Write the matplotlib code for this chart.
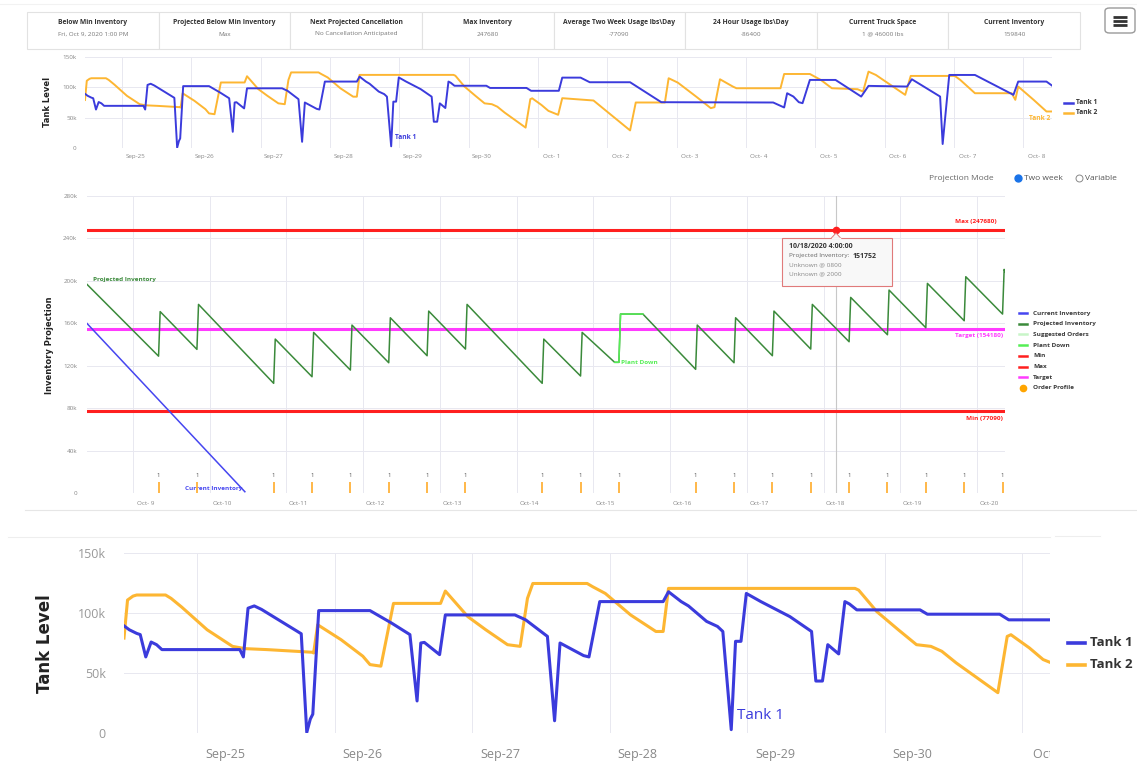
import numpy as np
import pandas as pd
import matplotlib
matplotlib.use("Agg")
import matplotlib.pyplot as plt
from matplotlib.lines import Line2D
from matplotlib.patches import Rectangle, FancyBboxPatch, Polygon

# ---------------- data ----------------
card_titles = ["Below Min Inventory", "Projected Below Min Inventory", "Next Projected Cancellation",
               "Max Inventory", "Average Two Week Usage lbs\\Day", "24 Hour Usage lbs\\Day",
               "Current Truck Space", "Current Inventory"]
card_values = ["Fri, Oct 9, 2020 1:00 PM", "Max", "No Cancellation Anticipated", "247680",
               "-77090", "-86400", "1 @ 46000 lbs", "159840"]

# tank levels: time in days after 2020-09-25 00:00, level in thousands of lbs
tank1_day = [-0.534, -0.495, -0.442, -0.416, -0.376, -0.337, -0.297, -0.258, 0.308, 0.334,
             0.368, 0.413, 0.466, 0.755, 0.795, 0.821, 0.839, 0.882, 1.255, 1.413,
             1.545, 1.597, 1.624, 1.650, 1.761, 1.803, 2.308, 2.387, 2.545, 2.597,
             2.637, 2.808, 2.847, 2.926, 3.387, 3.426, 3.518, 3.571, 3.703, 3.782,
             3.821, 3.882, 3.913, 3.953, 3.992, 4.097, 4.308, 4.466, 4.497, 4.545,
             4.584, 4.663, 4.708, 4.742, 4.795, 5.255, 5.308, 5.834, 5.900, 6.300,
             6.349, 6.614, 6.746, 7.328, 7.778, 9.392, 9.550, 9.593, 9.683, 9.762,
             9.815, 9.921, 10.291, 10.661, 10.767, 11.323, 11.392, 11.799, 11.836, 11.931,
             12.302, 12.857, 12.926, 13.333, 13.413]
tank1_k = [89.3, 86.0, 83.0, 82.0, 63.4, 75.8, 73.6, 69.5, 69.5, 63.4,
           104.0, 105.9, 103.0, 82.7, 0.5, 11.6, 15.7, 102.0, 102.0, 91.5,
           82.0, 26.7, 75.0, 75.5, 65.3, 98.4, 98.4, 94.3, 80.5, 10.2,
           75.0, 64.5, 63.4, 109.5, 109.5, 117.7, 109.5, 105.9, 93.0, 88.8,
           84.6, 2.8, 76.4, 76.4, 116.3, 109.5, 97.0, 84.6, 43.3, 43.3,
           73.6, 65.9, 109.5, 107.5, 102.6, 102.6, 99.0, 99.0, 94.3, 94.3,
           116.0, 116.0, 108.4, 108.4, 75.5, 75.0, 66.8, 90.3, 84.8, 75.5,
           73.9, 112.2, 112.2, 84.8, 102.4, 101.3, 113.3, 84.8, 6.6, 120.4,
           120.4, 87.6, 109.5, 109.5, 102.9]

tank2_day = [-0.534, -0.508, -0.468, -0.442, -0.232, -0.192, -0.113, 0.071, 0.255, 0.347,
             0.505, 0.834, 0.845, 0.874, 1.045, 1.203, 1.255, 1.334, 1.426, 1.768,
             1.803, 1.966, 2.097, 2.255, 2.347, 2.400, 2.439, 2.834, 2.874, 2.966,
             3.150, 3.334, 3.387, 3.426, 4.782, 4.808, 4.940, 5.097, 5.229, 5.334,
             5.413, 5.518, 5.821, 5.889, 5.916, 6.050, 6.150, 6.290, 6.349, 6.540,
             6.800, 7.328, 7.410, 7.830, 7.884, 8.016, 8.280, 8.492, 8.545, 8.624,
             8.810, 8.862, 9.497, 9.550, 9.921, 10.079, 10.238, 10.608, 10.688, 10.767,
             10.873, 11.296, 11.376, 12.011, 12.090, 12.302, 12.831, 12.884, 12.926, 13.148,
             13.333, 13.413]
tank2_k = [79.1, 110.8, 114.1, 115.0, 115.0, 112.2, 104.8, 86.0, 72.2, 70.3,
           69.5, 67.3, 66.7, 90.2, 77.7, 64.0, 57.0, 55.7, 108.0, 108.0,
           118.3, 97.0, 86.0, 73.6, 72.2, 112.2, 124.6, 124.6, 121.9, 116.3,
           98.4, 84.6, 84.6, 120.5, 120.5, 119.1, 101.2, 86.0, 73.6, 72.2,
           68.1, 58.4, 33.6, 80.5, 81.9, 70.9, 61.2, 54.7, 82.1, 80.5,
           78.3, 29.0, 75.0, 75.0, 115.0, 107.8, 84.8, 65.7, 67.3, 113.3,
           101.3, 98.5, 98.5, 122.0, 122.0, 112.2, 98.5, 96.9, 93.0, 125.9,
           120.4, 87.6, 118.8, 118.8, 112.2, 90.3, 90.3, 79.4, 101.3, 79.4,
           60.2, 60.2]

tank_ticks = ["0", "50k", "100k", "150k"]
tank_tick_vals = [0, 50000, 100000, 150000]

# projection chart
proj_time = ["2020-10-08 09:37",
             "2020-10-09 08:00", "2020-10-09 08:30", "2020-10-09 20:00", "2020-10-09 20:30",
             "2020-10-10 20:00", "2020-10-10 20:30", "2020-10-11 08:00", "2020-10-11 08:30",
             "2020-10-11 20:00", "2020-10-11 20:30", "2020-10-12 08:00", "2020-10-12 08:30",
             "2020-10-12 20:00", "2020-10-12 20:30", "2020-10-13 08:00", "2020-10-13 08:30",
             "2020-10-14 08:00", "2020-10-14 08:30", "2020-10-14 20:00", "2020-10-14 20:30",
             "2020-10-15 06:40", "2020-10-15 08:00", "2020-10-15 08:30", "2020-10-15 15:30",
             "2020-10-16 08:00", "2020-10-16 08:30", "2020-10-16 20:00", "2020-10-16 20:30",
             "2020-10-17 08:00", "2020-10-17 08:30", "2020-10-17 20:00", "2020-10-17 20:30",
             "2020-10-18 08:00", "2020-10-18 08:30", "2020-10-18 20:00", "2020-10-18 20:30",
             "2020-10-19 08:00", "2020-10-19 08:30", "2020-10-19 20:00", "2020-10-19 20:30",
             "2020-10-20 08:00", "2020-10-20 08:30", "2020-10-20 08:46"]
proj_k = [196.7,
          129.0, 171.0, 135.4, 177.8,
          103.4, 145.1, 109.6, 151.4,
          115.9, 158.3, 122.8, 165.2,
          129.4, 171.5, 135.7, 177.8,
          103.4, 145.1, 110.3, 151.4,
          123.2, 123.2, 168.7, 168.7,
          116.6, 158.3, 122.8, 165.2,
          129.4, 171.5, 135.7, 177.8,
          142.6, 184.4, 149.2, 191.3,
          155.8, 197.6, 162.4, 203.9,
          168.7, 210.8, 208.6]

plant_time = ["2020-10-15 06:40", "2020-10-15 08:00", "2020-10-15 08:30", "2020-10-15 15:30"]
plant_k = [123.2, 123.2, 168.7, 168.7]

cur_time = ["2020-10-08 09:37", "2020-10-10 11:00"]
cur_value = [159840, 1200]

order_time = ["2020-10-09 08:00", "2020-10-09 20:00", "2020-10-10 20:00", "2020-10-11 08:00",
              "2020-10-11 20:00", "2020-10-12 08:00", "2020-10-12 20:00", "2020-10-13 08:00",
              "2020-10-14 08:00", "2020-10-14 20:00", "2020-10-15 08:00", "2020-10-16 08:00",
              "2020-10-16 20:00", "2020-10-17 08:00", "2020-10-17 20:00", "2020-10-18 08:00",
              "2020-10-18 20:00", "2020-10-19 08:00", "2020-10-19 20:00", "2020-10-20 08:00"]
order_count = [1, 1, 1, 1, 1, 1, 1, 1, 1, 1, 1, 1, 1, 1, 1, 1, 1, 1, 1, 1]

max_val = 247680
min_val = 77090
target_val = 154180
proj_tick_vals = [0, 40000, 80000, 120000, 160000, 200000, 240000, 280000]
proj_ticks = ["0", "40k", "80k", "120k", "160k", "200k", "240k", "280k"]

tooltip_time = "2020-10-18 04:00"
tooltip_lines = ["10/18/2020 4:00:00", "Projected Inventory: ", "151752", "Unknown @ 0800", "Unknown @ 2000"]

legend_names = ["Current Inventory", "Projected Inventory", "Suggested Orders", "Plant Down",
                "Min", "Max", "Target", "Order Profile"]

# ---------------- styling ----------------
W, H = 1137, 766
plt.rcParams['font.family'] = ['Open Sans', 'DejaVu Sans']
fig = plt.figure(figsize=(W / 100, H / 100), dpi=100)
fig.patch.set_facecolor("white")

BLUE = "#3b3bdc"
ORANGE = "#fdb632"
GREEN = "#3b8a3b"
PLANT = "#55ee55"
SUGG = "#c8f5c8"
RED = "#ff1f1f"
MAGENTA = "#ff3bff"
GRID = "#e8e8f0"
TICKC = "#888888"


def fx(x):
    return x / W


def fy(y):
    return 1 - y / H


def rect(x0, y0, x1, y1):
    return [x0 / W, 1 - y1 / H, (x1 - x0) / W, (y1 - y0) / H]


def fline(x0, y0, x1, y1, **kw):
    fig.add_artist(Line2D([fx(x0), fx(x1)], [fy(y0), fy(y1)], transform=fig.transFigure, **kw))


def ftext(x, y, s, **kw):
    return fig.text(fx(x), fy(y), s, **kw)


BASE = np.datetime64("2020-09-25T00:00")


def day_to_time(days):
    return BASE + np.round(np.array(days) * 1440).astype("timedelta64[m]")


def fmt_day(d):
    return f"{d:%b}-{d.day:2d}"


def style_axis(ax, label_offset_days, first_day, last_day, fs, pad_x, pad_y):
    days = pd.date_range(first_day, last_day, freq="D")
    ax.set_xticks(days.to_numpy(), labels=[""] * len(days))
    lab_pos = (days + pd.Timedelta(days=label_offset_days)).to_numpy()
    ax.set_xticks(lab_pos, labels=[fmt_day(d) for d in days], minor=True)
    ax.grid(True, which="major", color=GRID, lw=0.7, zorder=0)
    ax.set_axisbelow(True)
    for s in ax.spines.values():
        s.set_visible(False)
    ax.tick_params(which="both", length=0, labelsize=fs, labelcolor=TICKC)
    ax.tick_params(axis="x", which="minor", pad=pad_x)
    ax.tick_params(axis="y", pad=pad_y)


# ---------------- header ----------------
fline(0, 4, 1137, 4, color="#f2f2f2", lw=0.8)
edges = np.linspace(27, 1080, len(card_titles) + 1)
for i, (t, v) in enumerate(zip(card_titles, card_values)):
    x0, x1 = edges[i], edges[i + 1]
    fig.add_artist(Rectangle((fx(x0), fy(49)), (x1 - x0) / W, 37 / H, transform=fig.transFigure,
                             facecolor="white", edgecolor="#e2e2e2", lw=0.8))
    ftext((x0 + x1) / 2, 22, t, ha="center", va="center", fontsize=4.9, fontweight="bold", color="#333333")
    ftext((x0 + x1) / 2, 34, v, ha="center", va="center", fontsize=4.6, color="#777777")

fig.add_artist(FancyBboxPatch((fx(1105), fy(33)), 30 / W, 25 / H, transform=fig.transFigure,
                              boxstyle="round,pad=0,rounding_size=0.004", facecolor="white",
                              edgecolor="#9a9a9a", lw=1.0))
for yy in (17, 21, 25):
    fline(1113, yy, 1127, yy, color="#333333", lw=2.0, solid_capstyle="butt")

# ---------------- top tank chart ----------------
t1 = day_to_time(tank1_day)
t2 = day_to_time(tank2_day)
ax1 = fig.add_axes(rect(85, 57, 1052, 148))
ax1.plot(t1, np.array(tank1_k) * 1000, color=BLUE, lw=1.4, zorder=3)
ax1.plot(t2, np.array(tank2_k) * 1000, color=ORANGE, lw=1.4, zorder=2)
ax1.set_xlim(t1[0], t1[-1])
ax1.set_ylim(0, 150000)
ax1.set_yticks(tank_tick_vals, labels=tank_ticks)
style_axis(ax1, 0.19, "2020-09-25", "2020-10-08", 4.5, 4.5, 6)
ftext(48, 102, "Tank Level", rotation=90, ha="center", va="center", fontsize=6,
      fontweight="bold", color="#222222", family="DejaVu Sans")
ax1.annotate("Tank 1", xy=(t1[41], tank1_k[41] * 1000), xytext=(2.5, 6), textcoords="offset points",
             fontsize=4.8, fontweight="bold", color=BLUE, va="center", ha="left")
ax1.annotate("Tank 2", xy=(t2[-1], tank2_k[-1] * 1000), xytext=(-1.5, -5), textcoords="offset points",
             fontsize=4.8, fontweight="bold", color=ORANGE, va="center", ha="right")
for yy, c, name in ((103, BLUE, "Tank 1"), (113, ORANGE, "Tank 2")):
    fline(1064, yy, 1073, yy, color=c, lw=1.8)
    ftext(1076, yy, name, fontsize=4.8, fontweight="bold", color="#333333", va="center")

# ---------------- projection mode ----------------
ftext(929, 179, "Projection Mode", fontsize=6, color="#666666", va="center")
fig.add_artist(Line2D([fx(1018)], [fy(178)], transform=fig.transFigure, marker="o", markersize=5,
                      markerfacecolor="#1a73e8", markeredgecolor="#1a73e8"))
ftext(1024, 179, "Two week", fontsize=6, color="#555555", va="center")
fig.add_artist(Line2D([fx(1079)], [fy(178)], transform=fig.transFigure, marker="o", markersize=5,
                      markerfacecolor="white", markeredgecolor="#888888", markeredgewidth=0.7))
ftext(1085, 179, "Variable", fontsize=6, color="#555555", va="center")

# ---------------- projection chart ----------------
pt = pd.to_datetime(proj_time).to_numpy()
ax2 = fig.add_axes(rect(87, 196, 1005, 493))
ax2.set_xlim(pt[0], pt[-1])
ax2.set_ylim(0, 280000)
ax2.set_yticks(proj_tick_vals, labels=proj_ticks)
style_axis(ax2, 0.16, "2020-10-09", "2020-10-20", 4.5, 5.5, 7)

tt = pd.Timestamp(tooltip_time).to_datetime64()
ax2.axvline(tt, color="#c8c8c8", lw=0.8, zorder=1)
ax2.axhline(max_val, color=RED, lw=2.2, zorder=3)
ax2.axhline(min_val, color=RED, lw=2.2, zorder=3)
ax2.axhline(target_val, color=MAGENTA, lw=2.2, zorder=3)
ax2.plot(pt, np.array(proj_k) * 1000, color=GREEN, lw=1.1, zorder=4)
ax2.plot(pd.to_datetime(plant_time).to_numpy(), np.array(plant_k) * 1000, color=PLANT, lw=1.1, zorder=5)
ct = pd.to_datetime(cur_time).to_numpy()
ax2.plot(ct, cur_value, color="#4646f0", lw=1.1, zorder=4)
ot = pd.to_datetime(order_time).to_numpy()
ax2.vlines(ot, 0, np.array(order_count) * 10000, color="#ffb23a", lw=1.3, zorder=4)
for o, c in zip(ot, order_count):
    ax2.text(o, c * 16500, str(c), fontsize=4.3, color="#555555", ha="center", va="center")
ax2.plot([tt], [max_val], marker="o", markersize=4.5, color=RED, zorder=6)

ax2.annotate("Projected Inventory", xy=(pt[0], proj_k[0] * 1000), xytext=(4.5, 3.6),
             textcoords="offset points", fontsize=4.6, fontweight="bold", color=GREEN, va="center")
ax2.annotate("Plant Down", xy=(pd.Timestamp(plant_time[1]).to_datetime64(), plant_k[1] * 1000),
             xytext=(1.5, 0), textcoords="offset points", fontsize=4.6, fontweight="bold",
             color=PLANT, va="center")
ax2.annotate("Current Inventory", xy=(ct[-1], cur_value[-1]), xytext=(-1.5, 2.6),
             textcoords="offset points", fontsize=4.6, fontweight="bold", color="#4646f0",
             va="center", ha="right")
xr = pt[-1]
ax2.annotate(f"Max ({max_val})", xy=(xr, max_val), xytext=(-6, 6), textcoords="offset points",
             fontsize=4.6, fontweight="bold", color=RED, va="center", ha="right")
ax2.annotate(f"Target ({target_val})", xy=(xr, target_val), xytext=(-1.5, -4.5), textcoords="offset points",
             fontsize=4.6, fontweight="bold", color=MAGENTA, va="center", ha="right")
ax2.annotate(f"Min ({min_val})", xy=(xr, min_val), xytext=(-1.5, -5), textcoords="offset points",
             fontsize=4.6, fontweight="bold", color=RED, va="center", ha="right")

ftext(50, 345, "Inventory Projection", rotation=90, ha="center", va="center", fontsize=6,
      fontweight="bold", color="#222222", family="DejaVu Sans")

# tooltip
fig.add_artist(Polygon([(fx(831), fy(238.5)), (fx(836), fy(233)), (fx(841), fy(238.5))],
                       closed=True, transform=fig.transFigure, facecolor="#f8f8f8",
                       edgecolor="#e07a7a", lw=0.7, zorder=6))
fig.add_artist(Rectangle((fx(782), fy(286)), 110 / W, 48 / H, transform=fig.transFigure,
                         facecolor="#f8f8f8", edgecolor="#e07a7a", lw=0.8, zorder=6))
fline(832, 238, 840, 238, color="#f8f8f8", lw=1.0, zorder=7)
ftext(789, 247, tooltip_lines[0], fontsize=5, fontweight="bold", color="#333333", va="center", zorder=8)
ftext(789, 256, tooltip_lines[1], fontsize=4.6, color="#666666", va="center", zorder=8)
ftext(853, 256, tooltip_lines[2], fontsize=5, fontweight="bold", color="#333333", va="center", zorder=8)
ftext(789, 265, tooltip_lines[3], fontsize=4.6, color="#888888", va="center", zorder=8)
ftext(789, 274, tooltip_lines[4], fontsize=4.6, color="#888888", va="center", zorder=8)

# legend
leg_colors = ["#4646f0", GREEN, SUGG, PLANT, RED, RED, MAGENTA, "#ffa500"]
for i, (name, c) in enumerate(zip(legend_names, leg_colors)):
    yy = 313 + i * 10.7
    if name == "Order Profile":
        fig.add_artist(Line2D([fx(1023)], [fy(yy)], transform=fig.transFigure, marker="o",
                              markersize=4.5, color=c))
    else:
        fline(1019, yy, 1027, yy, color=c, lw=1.8)
    ftext(1033, yy, name, fontsize=4.6, fontweight="bold", color="#3a3a3a", va="center")

fline(25, 510, 1137, 510, color="#e6e6e6", lw=0.8)

# ---------------- bottom (zoomed) tank chart ----------------
fline(8, 537, 1050, 537, color="#eeeeee", lw=0.8)
fline(1055, 536, 1100, 536, color="#eeeeee", lw=0.8)
ax3 = fig.add_axes(rect(124, 553, 1050, 733))
ax3.plot(t1, np.array(tank1_k) * 1000, color=BLUE, lw=2.2, zorder=3)
ax3.plot(t2, np.array(tank2_k) * 1000, color=ORANGE, lw=2.2, zorder=2)
ax3.set_xlim(t1[0], day_to_time([6.186])[0])
ax3.set_ylim(0, 150000)
ax3.set_yticks(tank_tick_vals, labels=tank_ticks)
style_axis(ax3, 0.2, "2020-09-25", "2020-10-01", 9, 11, 13)
for lbl in ax3.get_yticklabels():
    lbl.set_color("#999999")
ax3.annotate("Tank 1", xy=(t1[41], tank1_k[41] * 1000), xytext=(4, 10), textcoords="offset points",
             fontsize=11, color=BLUE, va="center", ha="left")
ftext(45, 644, "Tank Level", rotation=90, ha="center", va="center", fontsize=12,
      fontweight="bold", color="#222222", family="DejaVu Sans")
for yy, c, name in ((643, BLUE, "Tank 1"), (665, ORANGE, "Tank 2")):
    fline(1068, yy, 1085, yy, color=c, lw=2.6)
    ftext(1090, yy, name, fontsize=9.5, fontweight="bold", color="#333333", va="center")
fig.add_artist(Rectangle((fx(1050), 0), 18 / W, 25 / H, transform=fig.transFigure,
                         facecolor="white", edgecolor="none", zorder=10))

fig.savefig("out.png", dpi=100)
